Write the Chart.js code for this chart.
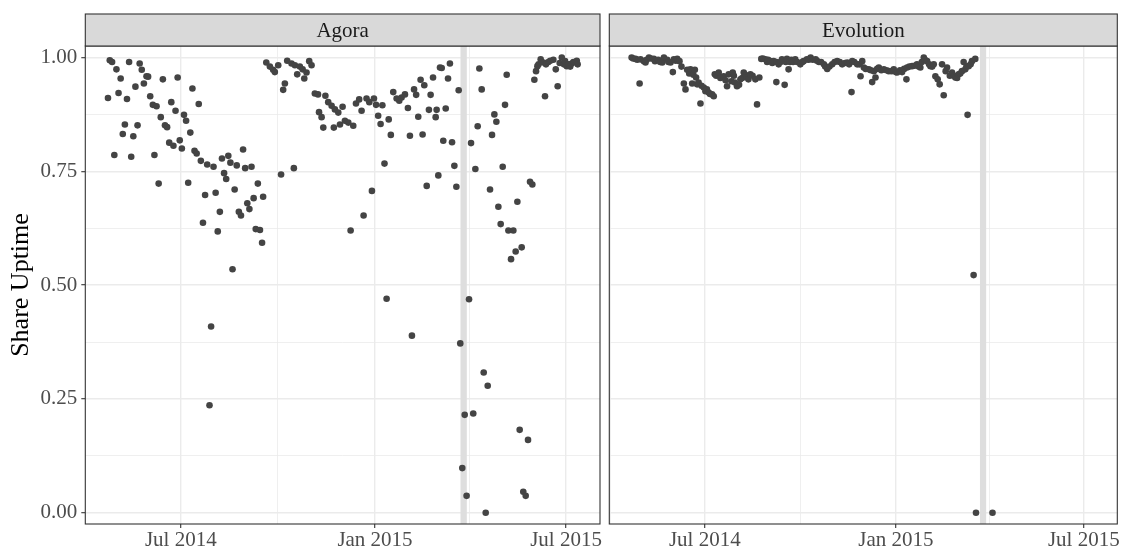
<!DOCTYPE html>
<html><head><meta charset="utf-8">
<script src="https://cdn.jsdelivr.net/npm/chart.js@4.4.1/dist/chart.umd.min.js"></script>
<style>
html,body{margin:0;padding:0;background:#fff;}
#wrap{position:relative;width:1129px;height:551px;overflow:hidden;}
#c1{position:absolute;left:0;top:0;}
#c2{position:absolute;left:606px;top:0;}
</style></head><body>
<div id="wrap"><canvas id="c1" width="606" height="551"></canvas><canvas id="c2" width="523" height="551"></canvas></div>
<script>
// x values are days since 2014-01-01
const panelNames = ['Agora', 'Evolution'];
const xMajorTicks = [181, 365, 546];
const xMinorTicks = [90, 273, 455];
const xTickLabels = ['Jul 2014', 'Jan 2015', 'Jul 2015'];
const yMajorTicks = [0, 0.25, 0.5, 0.75, 1];
const yMinorTicks = [0.125, 0.375, 0.625, 0.875];
const yTickLabels = ['0.00', '0.25', '0.50', '0.75', '1.00'];
const shutdownBand = [446, 452];

const agoraDay = [112,113.7,115.9,118,120,122,124,126,128,130,132,134,136,138,140,142,144,146,148.5,150,152,154.5,156,158,160,162,164,166,168,170,172,174,176,178,180,182,184,186,188,190,192,194,196,198,200,202,204,206,208.2,209.7,212,214,216,218,220,222,224,226,228,230,232,234,236,238,240,242,244,246,248,250,252,254,256,258,259,262,265.4,268.5,270.1,273.3,276,278,279.6,281.8,285.9,288.1,289.1,291.3,293.8,296.4,298,300.1,302.7,304.9,308,311,312,314.4,316,318,320.7,323.9,326,327,330.2,331.8,334.3,336.5,339.7,341.9,344.4,347,350,352.3,354.2,357,359.6,362.1,364,366,368,370.3,372,374,376,378,380,382.3,385.5,388,390.2,393.4,396.2,398.1,400,402,404,406,408.2,410.1,411.7,414,416.1,417.7,420,422.5,423.4,425,426.6,428.2,429.7,432,434.2,436,438,440.2,442.1,444.3,445.8,447.7,450,451.8,454.1,456,458.1,460.1,462.3,463.9,466.1,468,469.9,471.8,474,475.9,478.1,480,481.9,484.1,486,488.2,489.8,491.4,493.9,496.1,498.3,499.9,502.1,504,505.5,507.8,510,511.9,514.1,516,517.6,518.9,520,522,524.6,526.1,527,529.3,531,534,536.3,538.1,540,542,544,545.1,546.7,548.3,550,551.4,553,554.5,556.2,557];
const agoraUptime = [0.911,0.994,0.990,0.786,0.974,0.922,0.954,0.832,0.853,0.909,0.990,0.782,0.827,0.936,0.851,0.987,0.973,0.943,0.959,0.958,0.915,0.896,0.786,0.893,0.723,0.869,0.952,0.851,0.847,0.813,0.902,0.806,0.883,0.956,0.818,0.800,0.874,0.861,0.725,0.835,0.932,0.795,0.789,0.898,0.773,0.637,0.698,0.765,0.236,0.409,0.760,0.703,0.618,0.661,0.778,0.746,0.733,0.784,0.769,0.535,0.710,0.763,0.661,0.653,0.798,0.757,0.680,0.667,0.760,0.691,0.623,0.723,0.621,0.593,0.694,0.989,0.980,0.973,0.968,0.983,0.743,0.929,0.943,0.993,0.987,0.757,0.983,0.963,0.980,0.974,0.954,0.967,0.992,0.983,0.921,0.919,0.880,0.869,0.846,0.916,0.902,0.894,0.846,0.886,0.879,0.853,0.892,0.861,0.857,0.620,0.850,0.899,0.908,0.883,0.653,0.910,0.902,0.707,0.910,0.896,0.872,0.854,0.895,0.767,0.470,0.864,0.830,0.924,0.910,0.905,0.912,0.919,0.889,0.828,0.389,0.930,0.918,0.870,0.951,0.831,0.939,0.718,0.885,0.918,0.956,0.869,0.885,0.741,0.978,0.977,0.817,0.888,0.954,0.987,0.814,0.762,0.716,0.928,0.372,0.098,0.215,0.037,0.469,0.812,0.218,0.755,0.849,0.976,0.930,0.308,0.000,0.279,0.710,0.830,0.875,0.859,0.672,0.634,0.760,0.896,0.962,0.620,0.557,0.620,0.574,0.683,0.182,0.583,0.046,0.037,0.160,0.727,0.721,0.951,0.970,0.981,0.985,0.996,0.989,0.915,0.985,0.990,0.993,0.995,0.974,0.937,0.988,1.000,0.985,0.992,0.981,0.985,0.980,0.987,0.990,0.990,0.993,0.985];

const evolutionDay = [110.5,112,114.3,116,118.2,119.1,122.3,123.9,125,127.2,129,131.9,133,136.1,138,140,141.6,144.8,146,148,150.2,151.2,153,154.4,156.6,158.5,160.8,162.4,164,166,167.2,168.8,170,171.4,172.6,173.6,175,176.8,177.8,180,181.6,183,184.8,186,188,189.6,190.6,192,194.4,196,199.2,201,202.4,204,206.6,207.9,209,210,212,214,215.3,217,218.5,220,221.7,223,224.9,227,229.7,231.3,233.5,235.4,237,239.3,241,242,244.1,246,247.3,249.9,250,252.1,254,255.3,257.9,259,260.1,261.7,263,264.3,266,268.1,270,273,275,276.1,279.3,281,282.9,285,287.7,289,290.9,293,295.7,297,298.9,301,303.7,306,308.5,311,313.3,316,318.2,320,322.3,323,325,327.8,330,331,332.6,334.2,336,339,341,342.2,343.8,345.4,347,348.6,351,353.4,356,358.2,361,363,365,366.2,369,371,373,375.2,375.8,378,380.6,383,385.4,387,388.6,390,391.9,393,395.1,397,398.3,400,401.5,403.1,405.3,407.2,409.5,411.1,413,414.3,417,419.1,421,422.3,424,425.5,427,428.7,430.3,431.9,433,434.1,435.1,437,438.3,439.9,441.5,442.2,458.1];
const evolutionUptime = [1.000,0.998,0.997,0.995,0.943,0.996,0.992,0.989,0.995,1.000,0.998,0.997,0.992,0.995,0.990,0.989,1.000,0.995,0.990,0.989,0.968,0.996,0.993,0.997,0.992,0.980,0.943,0.930,0.973,0.965,0.974,0.943,0.962,0.973,0.956,0.941,0.945,0.899,0.938,0.934,0.926,0.930,0.923,0.920,0.919,0.915,0.963,0.960,0.967,0.955,0.959,0.950,0.937,0.963,0.948,0.967,0.960,0.945,0.937,0.940,0.952,0.955,0.967,0.962,0.956,0.952,0.963,0.960,0.952,0.897,0.956,0.997,0.998,0.996,0.990,0.995,0.992,0.988,0.992,0.946,0.990,0.985,0.990,0.996,0.940,0.990,0.997,0.974,0.990,0.995,0.990,0.996,0.990,0.985,0.990,0.992,0.996,0.995,1.000,0.995,0.996,0.993,0.990,0.990,0.985,0.980,0.975,0.980,0.985,0.990,0.992,0.990,0.985,0.988,0.989,0.985,0.924,0.992,0.990,0.985,0.985,0.959,0.992,0.978,0.975,0.974,0.972,0.946,0.970,0.956,0.975,0.978,0.972,0.974,0.972,0.970,0.970,0.974,0.968,0.967,0.972,0.968,0.975,0.952,0.978,0.980,0.981,0.982,0.985,0.980,0.978,0.990,1.000,0.995,0.992,0.985,0.981,0.980,0.985,0.959,0.952,0.941,0.985,0.917,0.970,0.978,0.960,0.967,0.960,0.956,0.955,0.963,0.965,0.970,0.990,0.974,0.980,0.874,0.981,0.985,0.992,0.522,0.997,0.000,0.000];

const FONT = 'Liberation Serif';
const INK = '#444444';

function isIn(arr, v) { return arr.some(a => Math.abs(a - v) < 1e-6); }

const decoPlugin = {
  id: 'panelDeco',
  beforeDatasetsDraw(chart, args, opts) {
    const {ctx, chartArea: a, scales: {x}} = chart;
    const x1 = x.getPixelForValue(shutdownBand[0]);
    const x2 = x.getPixelForValue(shutdownBand[1]);
    ctx.save();
    ctx.fillStyle = '#DEDEDE';
    ctx.fillRect(x1, a.top, x2 - x1, a.bottom - a.top);
    ctx.restore();
  },
  afterDraw(chart, args, opts) {
    const {ctx, chartArea: a} = chart;
    ctx.save();
    ctx.strokeStyle = '#333333';
    ctx.lineWidth = 1.1;
    ctx.strokeRect(a.left, a.top, a.right - a.left, a.bottom - a.top);
    ctx.fillStyle = '#D9D9D9';
    ctx.fillRect(a.left, a.top - 32, a.right - a.left, 32);
    ctx.strokeRect(a.left, a.top - 32, a.right - a.left, 32);
    ctx.fillStyle = '#1A1A1A';
    ctx.font = '21px "' + FONT + '"';
    ctx.textAlign = 'center';
    ctx.textBaseline = 'alphabetic';
    ctx.fillText(opts.name, (a.left + a.right) / 2, a.top - 9.5);
    ctx.restore();
  }
};

function makeChart(id, name, days, vals, showY, xmin, xmax, padLeft, padRight) {
  const pts = days.map((d, i) => ({x: d, y: vals[i]}));
  const xTicksAll = xMajorTicks.concat(xMinorTicks).filter(v => v >= xmin && v <= xmax).sort((a, b) => a - b);
  const yTicksAll = yMajorTicks.concat(yMinorTicks).sort((a, b) => a - b);
  return new Chart(document.getElementById(id), {
    type: 'scatter',
    data: {datasets: [{label: name, data: pts, backgroundColor: INK, borderWidth: 0, pointRadius: 3.3, pointHoverRadius: 3.3}]},
    options: {
      responsive: false, animation: false, events: [],
      layout: {padding: {top: 46, left: padLeft, right: padRight, bottom: 0}},
      plugins: {legend: {display: false}, tooltip: {enabled: false}, panelDeco: {name: name}},
      scales: {
        x: {
          type: 'linear', min: xmin, max: xmax,
          afterBuildTicks: s => { s.ticks = xTicksAll.map(v => ({value: v})); },
          afterFit: s => { s.height = 27; s.paddingLeft = 0; s.paddingRight = 0; },
          border: {display: false},
          grid: {
            color: '#EBEBEB',
            lineWidth: c => isIn(xMajorTicks, c.tick.value) ? 1.4 : 0.8,
            tickColor: c => isIn(xMajorTicks, c.tick.value) ? '#333333' : 'rgba(0,0,0,0)',
            tickWidth: 1.1, tickLength: 4, drawTicks: true
          },
          ticks: {
            autoSkip: false, maxRotation: 0, minRotation: 0, padding: 0,
            color: '#4D4D4D', font: {family: FONT, size: 21},
            callback: v => { const i = xMajorTicks.findIndex(t => Math.abs(t - v) < 1e-6); return i >= 0 ? xTickLabels[i] : ''; }
          }
        },
        y: {
          type: 'linear', min: -0.0248, max: 1.0253,
          afterBuildTicks: s => { s.ticks = yTicksAll.map(v => ({value: v})); },
          afterFit: s => { s.width = showY ? 85.3 : 0; s.paddingTop = 0; s.paddingBottom = 0; },
          border: {display: false},
          title: {display: showY, text: 'Share Uptime', color: '#000000', font: {family: FONT, size: 26}, padding: {top: 6, bottom: 0}},
          grid: {
            color: '#EBEBEB',
            lineWidth: c => isIn(yMajorTicks, c.tick.value) ? 1.4 : 0.8,
            tickColor: c => (showY && isIn(yMajorTicks, c.tick.value)) ? '#333333' : 'rgba(0,0,0,0)',
            tickWidth: 1.1, tickLength: 4, drawTicks: showY
          },
          ticks: {
            display: showY, padding: 4,
            color: '#4D4D4D', font: {family: FONT, size: 21},
            callback: v => { const i = yMajorTicks.findIndex(t => Math.abs(t - v) < 1e-6); return i >= 0 ? yTickLabels[i] : ''; }
          }
        }
      }
    },
    plugins: [decoPlugin]
  });
}

makeChart('c1', panelNames[0], agoraDay, agoraUptime, true, 90.5, 578.2, 0, 6);
makeChart('c2', panelNames[1], evolutionDay, evolutionUptime, false, 89, 578.3, 2.3, 11.7);
</script>
</body></html>
